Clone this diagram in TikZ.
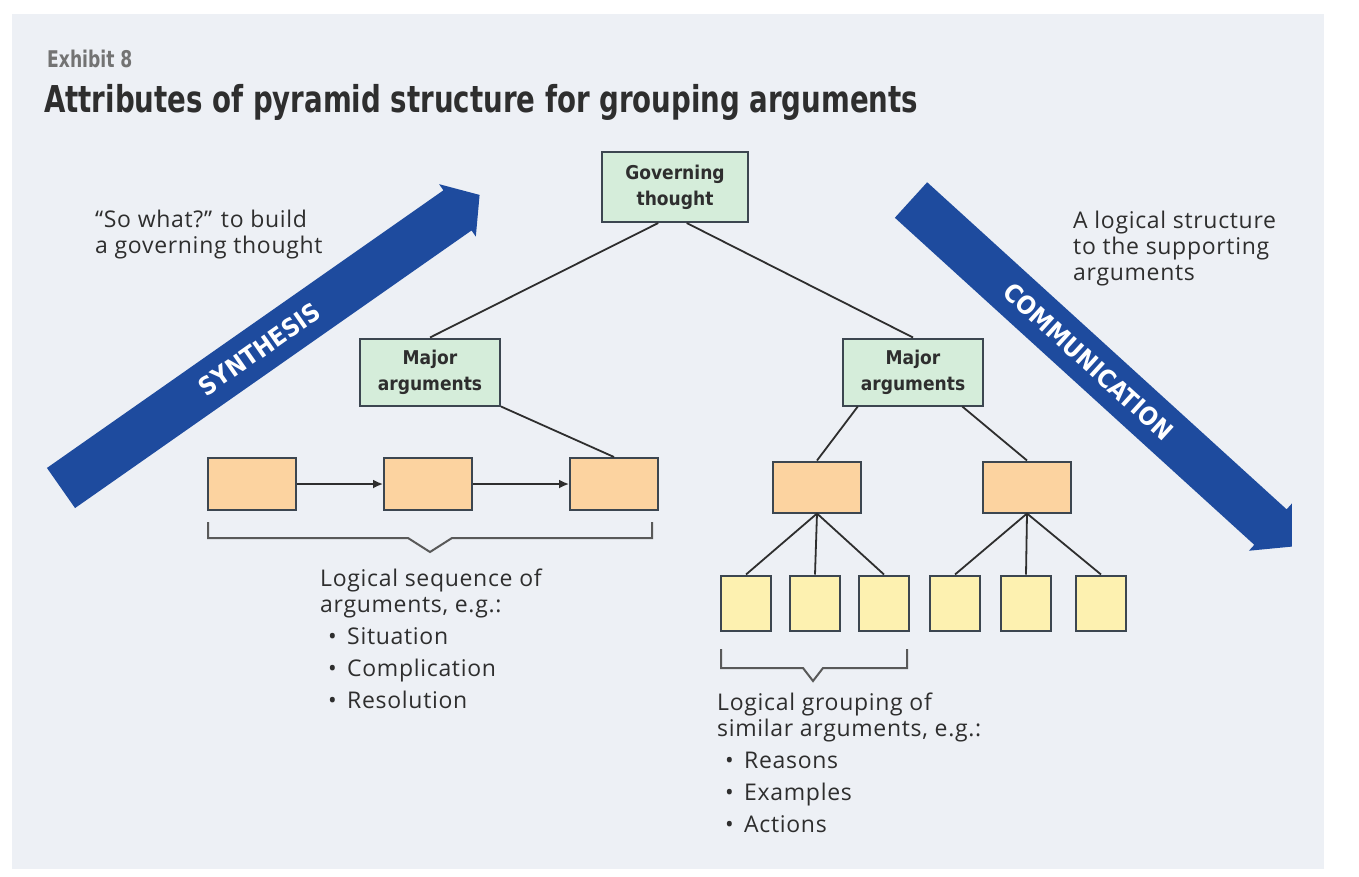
\documentclass[tikz,border=0pt]{standalone}
\usepackage{fontspec}
\setmainfont{Open Sans}[LetterSpace=3]
\newfontfamily\condfont{DejaVu Sans Condensed}
\newfontfamily\titlefont[FakeStretch=0.83]{DejaVu Sans Condensed}
\usepackage{tikz}
\usetikzlibrary{positioning,arrows.meta}

\definecolor{panel}{HTML}{EDF0F5}
\definecolor{arrowblue}{HTML}{1E4B9E}
\definecolor{thoughtgreen}{HTML}{D5EDDA}
\definecolor{argorange}{HTML}{FCD3A0}
\definecolor{ideayellow}{HTML}{FDF1B0}
\definecolor{edgegray}{HTML}{3C4650}
\definecolor{inkgray}{HTML}{2E2E2E}

\newcommand\bulletitem[1]{\hspace*{8pt}\makebox[19pt][l]{\textbullet}#1}

\begin{document}
\begin{tikzpicture}[x=1pt, y=-1pt,
  font=\fontsize{23}{26}\selectfont, text=inkgray,
  box/.style={draw=edgegray, line width=2pt, inner sep=0pt},
  thought/.style={box, fill=thoughtgreen, align=center,
    font=\condfont\bfseries\fontsize{19}{26}\selectfont,
    minimum width=140pt, minimum height=67pt},
  argbox/.style={box, fill=argorange, minimum width=88pt, minimum height=52pt},
  ideabox/.style={box, fill=ideayellow, minimum width=50pt, minimum height=55pt},
  conn/.style={draw=inkgray, line width=1.8pt},
  bracket/.style={draw=black!65, line width=2pt},
  note/.style={align=left, inner sep=0pt, anchor=north west},
  arrowtext/.style={text=white, font=\condfont\bfseries\fontsize{25}{25}\selectfont}]
\useasboundingbox (0,0) rectangle (1359,876);
\fill[white] (0,0) rectangle (1359,876);
\fill[panel] (12,14) rectangle (1324,869);

% heading
\node[note, anchor=base west, text=black!55,
  font=\titlefont\bfseries\fontsize{23}{23}\selectfont] (exh) at (47,67) {Exhibit 8};
\node[note, anchor=base west, text=inkgray,
  font=\titlefont\bfseries\fontsize{37}{37}\selectfont] (title) at (44,112)
  {Attributes of pyramid structure for grouping arguments};

% synthesis / communication arrows
\begin{scope}[shift={(61,488)}, rotate=35]
  \fill[arrowblue] (0,-24.5) -- (484,-24.5) -- (484,-32) -- (511,0)
    -- (484,32) -- (484,24.5) -- (0,24.5) -- cycle;
  \node[arrowtext, rotate=35] (synth) at (242,0) {SYNTHESIS};
\end{scope}
\begin{scope}[shift={(911,200)}, rotate=-42.3]
  \fill[arrowblue] (0,-24) -- (486,-24) -- (486,-32) -- (515,0)
    -- (486,32) -- (486,24) -- (0,24) -- cycle;
  \node[arrowtext, rotate=-42.3] (comm) at (240,0) {COMMUNICATION};
\end{scope}

\node[note] (sowhat) at (95,210) {“So what?” to build\\a governing thought};
\node[note] (logic) at (1073,211) {A logical structure\\to the supporting\\arguments};

% pyramid
\node[thought, minimum width=146pt, minimum height=70pt] (gov) at (675,187) {Governing\\thought};
\node[thought] (majl) at (430,372) {Major\\arguments};
\node[thought] (majr) at (913,372) {Major\\arguments};

\node[argbox] (seq1) at (252,484) {};
\node[argbox] (seq2) at (428,484) {};
\node[argbox] (seq3) at (614,484) {};

\node[argbox, minimum height=51pt] (grpa) at (817,487) {};
\node[argbox, minimum height=51pt] (grpb) at (1027,487) {};

\node[ideabox] (ida) at (746,603) {};
\node[ideabox] (idb) at (815,603) {};
\node[ideabox] (idc) at (884,603) {};
\node[ideabox] (idd) at (955,603) {};
\node[ideabox] (ide) at (1026,603) {};
\node[ideabox] (idf) at (1101,603) {};

\draw[conn] (gov.-115) -- (majl.north);
\draw[conn] (gov.-72) -- (majr.north);
\draw[conn] (majl.south east) -- (seq3.north);
\draw[conn] (majr.-148) -- (grpa.north);
\draw[conn] (majr.-35) -- (grpb.north);
\draw[conn, -{Latex[length=10pt,width=9pt]}] (seq1) -- (seq2);
\draw[conn, -{Latex[length=10pt,width=9pt]}] (seq2) -- (seq3);
\foreach \n in {ida,idb,idc}
  \draw[conn] (grpa.south) -- (\n.north);
\foreach \n in {idd,ide,idf}
  \draw[conn] (grpb.south) -- (\n.north);

% brackets and their notes
\draw[bracket] (208,522) |- (408,538) -- (430,552) -- (452,538) -| (652,522);
\draw[bracket] (721,649) |- (803,668) -- (813,681) -- (823,668) -| (907,649);

\node[note] (seqtxt) at (320,569) {Logical sequence of\\arguments, e.g.:\\[6pt]
  \bulletitem{Situation}\\[6pt]\bulletitem{Complication}\\[6pt]\bulletitem{Resolution}};
\node[note] (grptxt) at (717,693) {Logical grouping of\\similar arguments, e.g.:\\[6pt]
  \bulletitem{Reasons}\\[6pt]\bulletitem{Examples}\\[6pt]\bulletitem{Actions}};
\end{tikzpicture}
\end{document}
